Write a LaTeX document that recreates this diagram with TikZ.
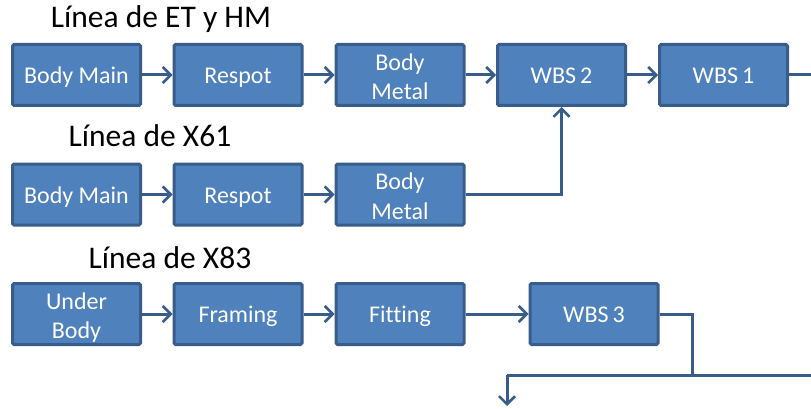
\documentclass[tikz,border=0pt]{standalone}
\usepackage{fontspec}
\setmainfont{Carlito}[Ligatures=NoCommon]
\usetikzlibrary{arrows.meta}
\definecolor{boxfill}{HTML}{4F81BD}
\definecolor{boxline}{HTML}{385D8A}
% strut that keeps the capitals of each label centred in its box
\newcommand\capstrut{\rule[-6.8pt]{0pt}{31pt}}
% two stacked, centred lines of a label
\newcommand\duo[2]{%
  \makebox[0pt]{\raisebox{13.5pt}[0pt][0pt]{\makebox[0pt]{#1}}}%
  \makebox[0pt]{\raisebox{-16pt}[0pt][0pt]{\makebox[0pt]{#2}}}}
\tikzset{
  stage/.style={draw=boxline, fill=boxfill, line width=3pt, rounded corners=1.5pt,
    minimum width=128pt, minimum height=61pt, inner sep=0pt, text=white,
    align=center, font=\fontsize{24}{29}\selectfont,
    execute at begin node=\capstrut, execute at end node=\capstrut},
  flow/.style={draw=boxline, line width=3pt,
    -{Straight Barb[length=8pt,width=16pt,line width=2.5pt]}},
  link/.style={draw=boxline, line width=3pt},
  title/.style={font=\fontsize{31.5}{36}\selectfont, text=black, inner sep=0pt}
}
\begin{document}
\begin{tikzpicture}[x=1pt,y=-1pt]
\useasboundingbox (0,0) rectangle (811,409);

% section titles
\node[title] (t1) at (161,19) {Línea de ET y HM};
\node[title] (t2) at (150,136) {Línea de X61};
\node[title] (t3) at (170,258) {Línea de X83};

% line ET / HM
\node[stage] (a1) at (76.5,75) {Body Main};
\node[stage] (a2) at (238,75) {Respot};
\node[stage] (a3) at (400,75) {\duo{Body}{Metal}};
\node[stage] (a4) at (561.5,75) {WBS\,2};
\node[stage] (a5) at (723.5,75) {WBS\,1};
\coordinate (aout) at (811,75);

% line X61
\node[stage] (b1) at (76.5,194.5) {Body Main};
\node[stage] (b2) at (238,194.5) {Respot};
\node[stage] (b3) at (400,194.5) {\duo{Body}{Metal}};

% line X83
\node[stage] (c1) at (76.5,314) {\duo{Under}{Body}};
\node[stage] (c2) at (238,314) {Framing};
\node[stage] (c3) at (400,314) {Fitting};
\node[stage] (c4) at (594,314) {WBS\,3};

\coordinate (cbend) at (692,375);
\coordinate (cright) at (811,375);
\coordinate (cleft) at (507,375);
\coordinate (cdown) at (507,406);

% connectors
\draw[flow] (a1) -- (a2);
\draw[flow] (a2) -- (a3);
\draw[flow] (a3) -- (a4);
\draw[flow] (a4) -- (a5);
\draw[link] (a5.east) -- (aout);

\draw[flow] (b1) -- (b2);
\draw[flow] (b2) -- (b3);
\draw[flow] (b3.east) -| (a4.south);

\draw[flow] (c1) -- (c2);
\draw[flow] (c2) -- (c3);
\draw[flow] (c3) -- (c4);
\draw[link] (c4.east) -| (cbend);
\draw[link] (cright) -- (cleft);
\draw[flow] (cleft) -- (cdown);
\end{tikzpicture}
\end{document}
